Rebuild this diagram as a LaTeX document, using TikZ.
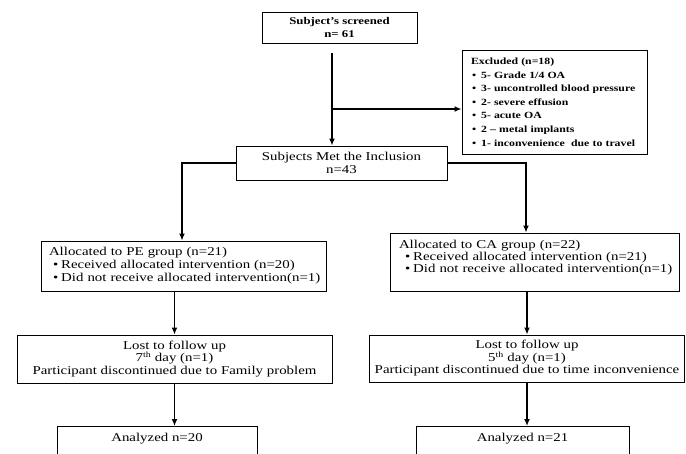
\documentclass[tikz,border=0pt]{standalone}
\usepackage{fontspec}
\setmainfont{Liberation Serif}[FakeStretch=1.24]
\usetikzlibrary{arrows.meta}
\newcommand{\exbul}{\hspace{1pt}\textbullet\hspace{5pt}}
\begin{document}
\begin{tikzpicture}[x=1pt,y=1pt,
  box/.style={draw, line width=0.9pt, inner sep=0pt},
  conn/.style={line width=1.9pt, -{Latex[length=7pt,width=6pt]}},
  branch/.style={line width=1.4pt, -{Latex[length=7pt,width=6pt]}},
  bigtext/.style={font=\fontsize{12}{12.5}\selectfont},
]
\path[use as bounding box, clip] (0,0) rectangle (686,-453);
\fill[white] (0,0) rectangle (686,-453);

\node[box, minimum width=155pt, minimum height=31pt, align=center,
      font=\bfseries\fontsize{10.3}{12.5}\selectfont] (screen) at (339.5,-27.5)
  {Subject’s screened\\n= 61};

\node[box, text width=167pt, inner xsep=9pt, minimum height=104pt, align=left,
      font=\bfseries\fontsize{9.5}{13.6}\selectfont] (excl) at (554.5,-102)
  {Excluded (n=18)\\
   \exbul 5- Grade 1/4 OA\\
   \exbul 3- uncontrolled blood pressure\\
   \exbul 2- severe effusion\\
   \exbul 5- acute OA\\
   \exbul 2 – metal implants\\
   \exbul 1- inconvenience\ \ due to travel};

\node[box, bigtext, minimum width=211pt, minimum height=34pt, align=center] (incl) at (341.5,-163)
  {Subjects Met the Inclusion\\n=43};

\node[box, text width=269pt, inner xsep=8pt, minimum height=50pt, align=left,
      font=\fontsize{12}{13}\selectfont] (pe) at (183.5,-266)
  {\mbox{Allocated to PE group (n=21)}\\
   \mbox{\hspace{4pt}\textbullet\hspace{3pt}Received allocated intervention (n=20)}\\
   \mbox{\hspace{4pt}\textbullet\hspace{3pt}Did not receive allocated intervention(n=1)}};

\node[box, text width=271pt, inner xsep=9pt, minimum height=58pt, align=left,
      font=\fontsize{12}{12}\selectfont] (ca) at (534.5,-262)
  {\mbox{Allocated to CA group (n=22)}\\
   \mbox{\hspace{6pt}\textbullet\hspace{3pt}Received allocated intervention (n=21)}\\
   \mbox{\hspace{6pt}\textbullet\hspace{3pt}Did not receive allocated intervention(n=1)}\rule[-12pt]{0pt}{0pt}};

\node[box, bigtext, minimum width=315pt, minimum height=48pt, align=center] (lostL) at (174.5,-359)
  {Lost to follow up\\7\textsuperscript{th} day (n=1)\\Participant discontinued due to Family problem};

\node[box, bigtext, minimum width=315pt, minimum height=47pt, align=center] (lostR) at (527,-358.5)
  {Lost to follow up\\5\textsuperscript{th} day (n=1)\\Participant discontinued due to time inconvenience};

\node[box, bigtext, anchor=north, minimum width=200pt, text height=12pt, text depth=30pt, inner ysep=3pt] (anL) at (157,-426)
  {Analyzed n=20};
\node[box, bigtext, anchor=north, minimum width=213pt, text height=12pt, text depth=30pt, inner ysep=3pt] (anR) at (522.5,-426)
  {Analyzed n=21};

\coordinate (s1) at (332,-53);
\coordinate (br) at (332,-109);
\draw[conn] (s1) -- (s1 |- incl.north);
\draw[branch] (br) -- (br -| excl.west);
\draw[branch] (incl.west) -| ([xshift=-1.5pt]pe.north);
\draw[branch] (incl.east) -| ([xshift=-8.5pt]ca.north);
\draw[conn] (lostL.north |- pe.south) -- (lostL.north);
\draw[conn] (lostR.north |- ca.south) -- (lostR.north);
\draw[conn] (lostL.south) -- (lostL.south |- anL.north);
\draw[conn] (lostR.south) -- (lostR.south |- anR.north);
\end{tikzpicture}
\end{document}
